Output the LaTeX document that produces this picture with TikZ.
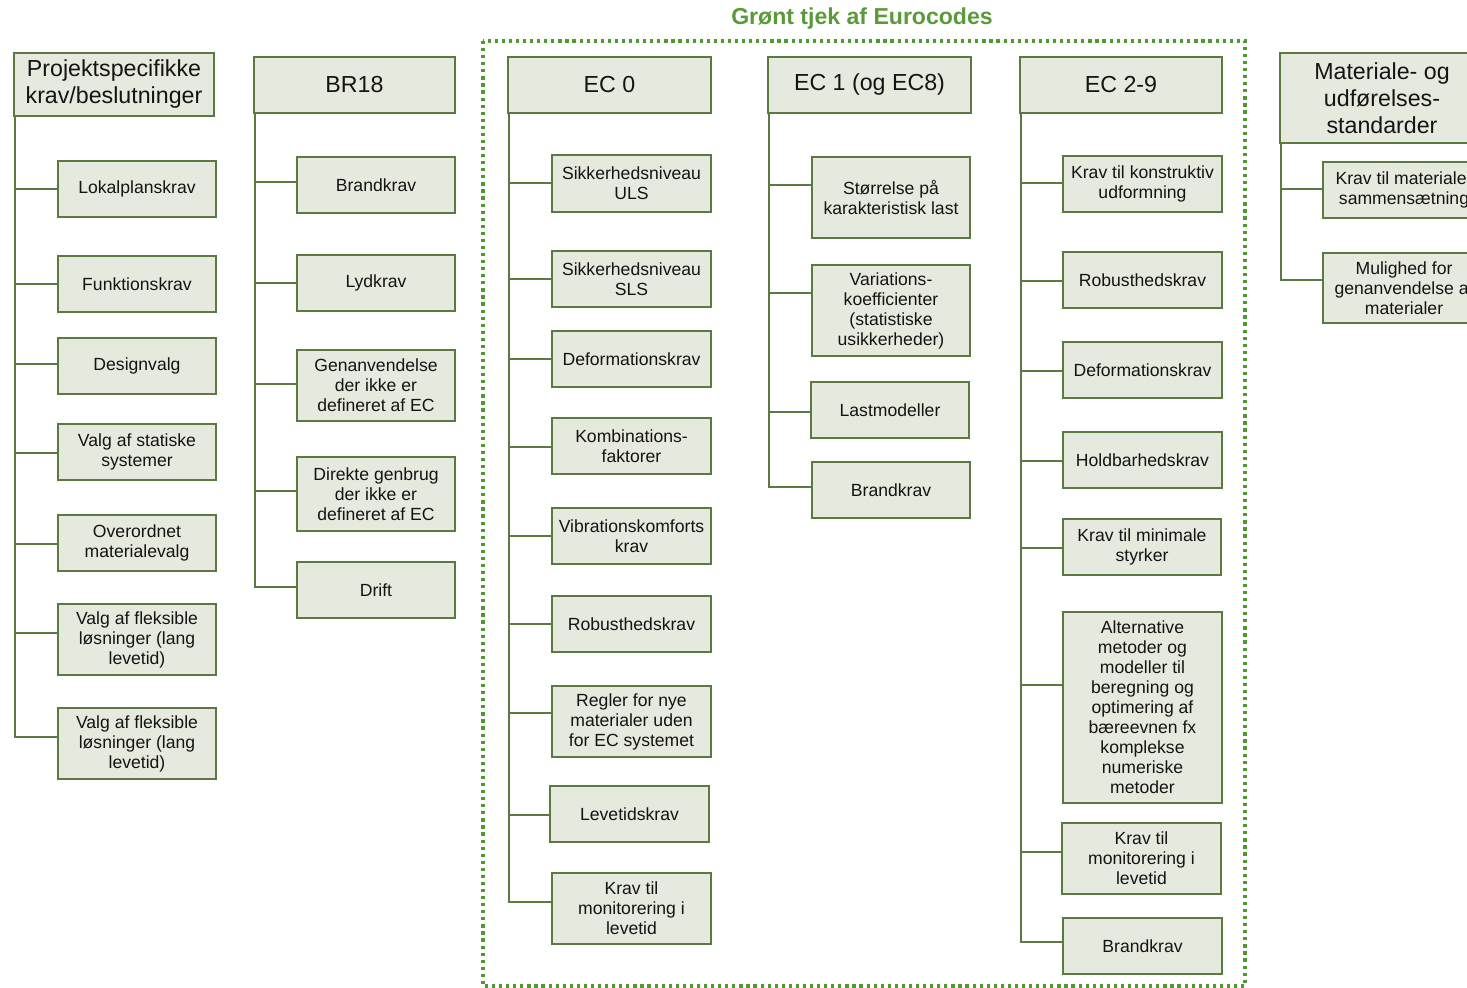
\documentclass[tikz,border=0pt]{standalone}
\usepackage{fontspec}
\setmainfont{Liberation Sans}
\definecolor{fillc}{HTML}{E6E9DE}
\definecolor{linec}{HTML}{5A7A40}
\definecolor{dotc}{HTML}{4E9A2E}
\definecolor{titlec}{HTML}{5A9A3A}
\tikzset{
 cbox/.style={draw=linec, fill=fillc, line width=1.3pt, inner sep=0pt, outer sep=0pt, align=center, font=\fontsize{13.2}{15}\selectfont, text=black!92},
 hbox/.style={cbox, font=\fontsize{17.4}{20.25}\selectfont},
 conn/.style={draw=linec, line width=1.3pt},
 dotframe/.style={draw=dotc, line width=2.8pt, dash pattern=on 2.4pt off 2.9pt},
}
\newcommand\bx[7][cbox]{\node[#1, minimum width={(#5-#3)*0.75pt}, minimum height={(#6-#4)*0.75pt}] (#2) at ({(#3+#5)/2},{(#4+#6)/2}) {#7};}
\newcommand\cn[3]{\draw[conn] ([xshift=0.6pt]#1.south west) |- ([yshift={#3*0.75pt}]#2.west);}
\begin{document}
\begin{tikzpicture}[x=0.75pt,y=-0.75pt]
\useasboundingbox (0,0) rectangle (1467,988);
\clip (0,0) rectangle (1467,988);

% title and green frame
\node[font=\fontsize{17.3}{20}\selectfont\bfseries, text=titlec] (title) at (862,19) {Grønt tjek af Eurocodes};
\draw[dotframe] (483,41) rectangle (1245,986);

% column 1
\bx[hbox]{p}{14}{53}{214}{116}{Projektspecifikke\\krav/beslutninger}
\bx{p1}{58}{161}{216}{217}{Lokalplanskrav}
\bx{p2}{58}{256}{216}{312}{Funktionskrav}
\bx{p3}{58}{338}{216}{394}{Designvalg}
\bx{p4}{58}{424}{216}{480}{Valg af statiske\\systemer}
\bx{p5}{58}{515}{216}{571}{Overordnet\\materialevalg}
\bx{p6}{58}{604}{216}{675}{Valg af fleksible\\løsninger (lang\\levetid)}
\bx{p7}{58}{708}{216}{779}{Valg af fleksible\\løsninger (lang\\levetid)}
\cn{p}{p1}{0}\cn{p}{p2}{0}\cn{p}{p3}{2}\cn{p}{p4}{-1}\cn{p}{p5}{-1}\cn{p}{p6}{6.5}\cn{p}{p7}{6.5}

% column 2
\bx[hbox]{b}{254}{57}{455}{113}{BR18}
\bx{b1}{297}{157}{455}{213}{Brandkrav}
\bx{b2}{297}{255}{455}{311}{Lydkrav}
\bx{b3}{297}{350}{455}{421}{Genanvendelse\\der ikke er\\defineret af EC}
\bx{b4}{297}{457}{455}{531}{Direkte genbrug\\der ikke er\\defineret af EC}
\bx{b5}{297}{562}{455}{618}{Drift}
\cn{b}{b1}{3}\cn{b}{b2}{0}\cn{b}{b3}{1.5}\cn{b}{b4}{3}\cn{b}{b5}{3}

% column 3 EC 0
\bx[hbox]{e}{508}{57}{711}{113}{EC 0}
\bx{e1}{552}{155}{711}{212}{Sikkerhedsniveau\\ULS}
\bx{e2}{552}{251}{711}{307}{Sikkerhedsniveau\\SLS}
\bx{e3}{552}{331}{711}{387}{Deformationskrav}
\bx{e4}{552}{418}{711}{474}{Kombinations-\\faktorer}
\bx{e5}{552}{508}{711}{564}{Vibrationskomforts\\krav}
\bx{e6}{552}{596}{711}{652}{Robusthedskrav}
\bx{e7}{552}{686}{711}{757}{Regler for nye\\materialer uden\\for EC systemet}
\bx{e8}{550}{786}{709}{842}{Levetidskrav}
\bx{e9}{552}{873}{711}{944}{Krav til\\monitorering i\\levetid}
\cn{e}{e1}{0.7}\cn{e}{e2}{0}\cn{e}{e3}{0}\cn{e}{e4}{-1}\cn{e}{e5}{0}\cn{e}{e6}{0}\cn{e}{e7}{8.5}\cn{e}{e8}{-1}\cn{e}{e9}{6.5}

% column 4 EC 1
\bx[hbox]{f}{768}{57}{971}{113}{EC 1 (og EC8)}
\bx{f1}{812}{157}{970}{238}{Størrelse på\\karakteristisk last}
\bx{f2}{812}{265}{970}{356}{Variations-\\koefficienter\\(statistiske\\usikkerheder)}
\bx{f3}{811}{382}{969}{438}{Lastmodeller}
\bx{f4}{812}{462}{970}{518}{Brandkrav}
\cn{f}{f1}{12.5}\cn{f}{f2}{17.5}\cn{f}{f3}{-2}\cn{f}{f4}{3}

% column 5 EC 2-9
\bx[hbox]{g}{1020}{57}{1222}{113}{EC 2-9}
\bx{g1}{1063}{156}{1222}{212}{Krav til konstruktiv\\udformning}
\bx{g2}{1063}{252}{1222}{308}{Robusthedskrav}
\bx{g3}{1063}{342}{1222}{398}{Deformationskrav}
\bx{g4}{1063}{432}{1222}{488}{Holdbarhedskrav}
\bx{g5}{1063}{519}{1221}{575}{Krav til minimale\\styrker}
\bx{g6}{1063}{612}{1222}{803}{Alternative\\metoder og\\modeller til\\beregning og\\optimering af\\bæreevnen fx\\komplekse\\numeriske\\metoder}
\bx{g7}{1062}{823}{1221}{894}{Krav til\\monitorering i\\levetid}
\bx{g8}{1063}{918}{1222}{974}{Brandkrav}
\cn{g}{g1}{1}\cn{g}{g2}{-1}\cn{g}{g3}{-1}\cn{g}{g4}{-1}\cn{g}{g5}{-1}\cn{g}{g6}{22.5}\cn{g}{g7}{6.5}\cn{g}{g8}{4}

% column 6
\bx[hbox]{m}{1280}{53}{1484}{143}{Materiale- og\\udførelses-\\standarder}
\bx{m1}{1323}{162}{1485}{218}{Krav til materiale-\\sammensætning}
\bx{m2}{1323}{253}{1485}{323}{Mulighed for\\genanvendelse af\\materialer}
\cn{m}{m1}{1}\cn{m}{m2}{8}
\end{tikzpicture}
\end{document}
